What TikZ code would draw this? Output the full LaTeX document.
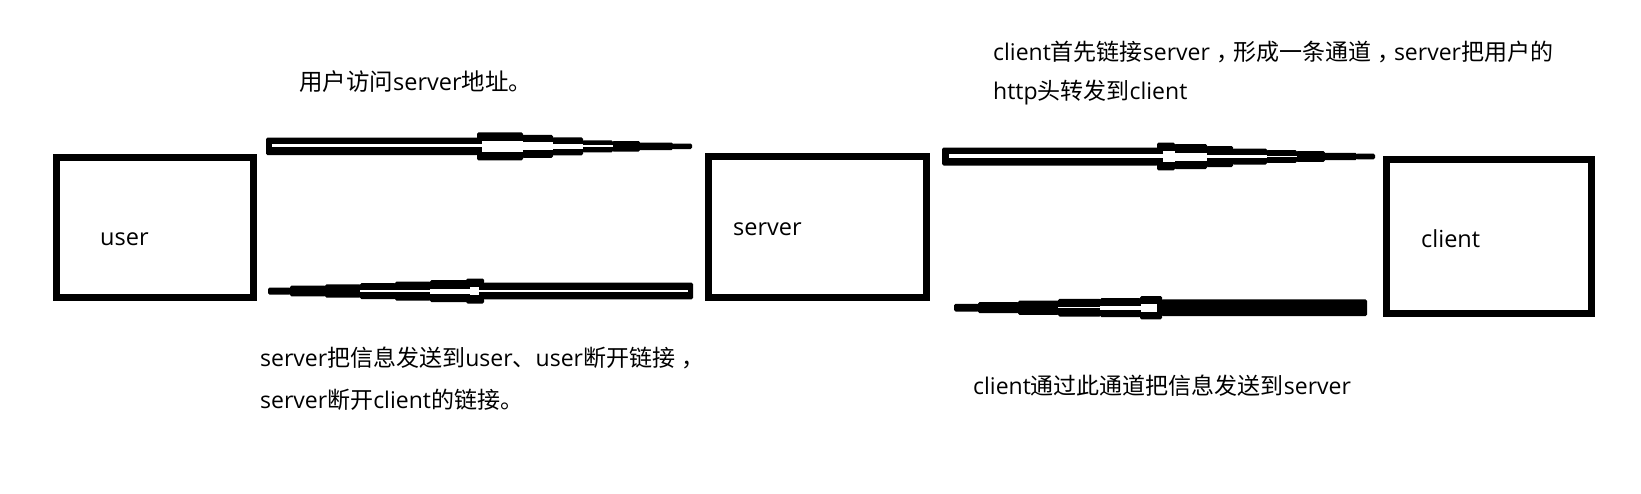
\documentclass[tikz,border=0pt]{standalone}
\usepackage{fontspec}
\setmainfont{Open Sans}
\newfontfamily\cjk{Noto Sans CJK SC}
\newcommand\ccomma{\hspace{0.3em}\makebox[0.7em][l]{\cjk ，}}
\tikzset{
  box/.style={draw=black, line width=7pt, inner sep=0pt},
  lbl/.style={inner sep=0pt, anchor=west, font=\fontsize{23.5}{28}\selectfont},
  note/.style={inner sep=0pt, anchor=west, align=left, font=\fontsize{23}{39}\selectfont},
  ablack/.style={fill=black, rounded corners=1.5pt},
  awhite/.style={fill=white}
}
\newcommand\bseg[4]{\path[ablack] (#1,#3-#4) rectangle (#2,#3+#4);}
\newcommand\wseg[4]{\path[awhite] (#1,#3-#4) rectangle (#2,#3+#4);}
\begin{document}
\begin{tikzpicture}[x=1pt,y=-1pt]
\fill[white] (0,0) rectangle (1641,493);
\useasboundingbox (0,0) rectangle (1641,493);

% boxes
\node[box, minimum width=197pt, minimum height=140pt] (user) at (155,227.5) {};
\node[box, minimum width=218pt, minimum height=141pt] (server) at (817.5,227) {};
\node[box, minimum width=205pt, minimum height=154pt] (client) at (1489,236) {};
\node[lbl] (userlbl) at (100,239) {user};
\node[lbl] (serverlbl) at (733,229) {server};
\node[lbl] (clientlbl) at (1421,239) {client};

% texts
\node[note, font=\fontsize{23.5}{39}\selectfont] (t1) at (299,82) {{\cjk 用户访问}server{\cjk 地址。}};
\node[note] (t2) at (993,73) {client{\cjk 首先链接}server\ccomma{\cjk 形成一条通道}\ccomma server{\cjk 把用户的}\\http{\cjk 头转发到}client};
\node[note, font=\fontsize{23}{42}\selectfont] (t3) at (260,379) {server{\cjk 把信息发送到}user{\cjk 、}user{\cjk 断开链接}\ccomma\\server{\cjk 断开}client{\cjk 的链接。}};
\node[note] (t4) at (973,386) {client{\cjk 通过此通道把信息发送到}server};

% arrow A: user -> server (top left)
\bseg{266}{478}{146.3}{8.8}
\bseg{477}{523}{146.3}{14}
\bseg{522}{553}{146.3}{11.5}
\bseg{552}{583}{146.3}{9}
\bseg{582}{613}{146.3}{6}
\bseg{612}{640}{146.3}{5.3}
\bseg{639}{673}{146.3}{3.8}
\bseg{672}{692}{146.3}{2.8}
\wseg{272}{483}{145.8}{1.6}
\wseg{482}{523}{146.3}{5.5}
\wseg{522}{553}{146.3}{4}
\wseg{552}{583}{146.3}{2.2}
\wseg{582}{613}{146.3}{1}

% arrow B: server -> user (bottom left)
\bseg{483}{693}{291}{8.3}
\bseg{466}{484}{291}{12.5}
\bseg{430}{468}{291}{11}
\bseg{395}{431}{291}{9.5}
\bseg{360}{396}{291}{8}
\bseg{325}{361}{291}{6.7}
\bseg{290}{326}{291}{5.3}
\bseg{268}{291}{291}{3.5}
\wseg{478}{688}{291}{1}
\wseg{470}{479}{291}{4}
\wseg{430}{471}{291}{2.5}
\wseg{393}{431}{291}{1.2}
\wseg{360}{394}{291}{0.6}

% arrow C: server -> client (top right)
\bseg{942}{1158}{156.5}{9}
\bseg{1157}{1175}{156.5}{13.8}
\bseg{1174}{1207}{156.5}{12.5}
\bseg{1206}{1233}{156.5}{10.5}
\bseg{1232}{1267}{156.5}{8}
\bseg{1266}{1297}{156.5}{6.3}
\bseg{1296}{1325}{156.5}{5.3}
\bseg{1324}{1357}{156.5}{3.7}
\bseg{1356}{1375}{156.5}{2.8}
\wseg{949}{1164}{156}{1.7}
\wseg{1163}{1175}{156.5}{5.8}
\wseg{1174}{1207}{156.5}{4}
\wseg{1206}{1267}{156.5}{1.7}
\wseg{1266}{1297}{156.5}{0.6}

% arrow D: client -> server (bottom right)
\bseg{954}{979}{307.7}{3.8}
\bseg{978}{1019}{307.7}{5.5}
\bseg{1018}{1059}{307.7}{7.2}
\bseg{1058}{1101}{307.7}{8.8}
\bseg{1100}{1141}{307.7}{9.5}
\bseg{1140}{1162}{307.7}{11.7}
\bseg{1161}{1367}{307.7}{8.3}
\wseg{1058}{1101}{307.7}{0.6}
\wseg{1100}{1141}{307.7}{1.8}
\wseg{1141}{1157}{307.7}{3.8}
\end{tikzpicture}
\end{document}
